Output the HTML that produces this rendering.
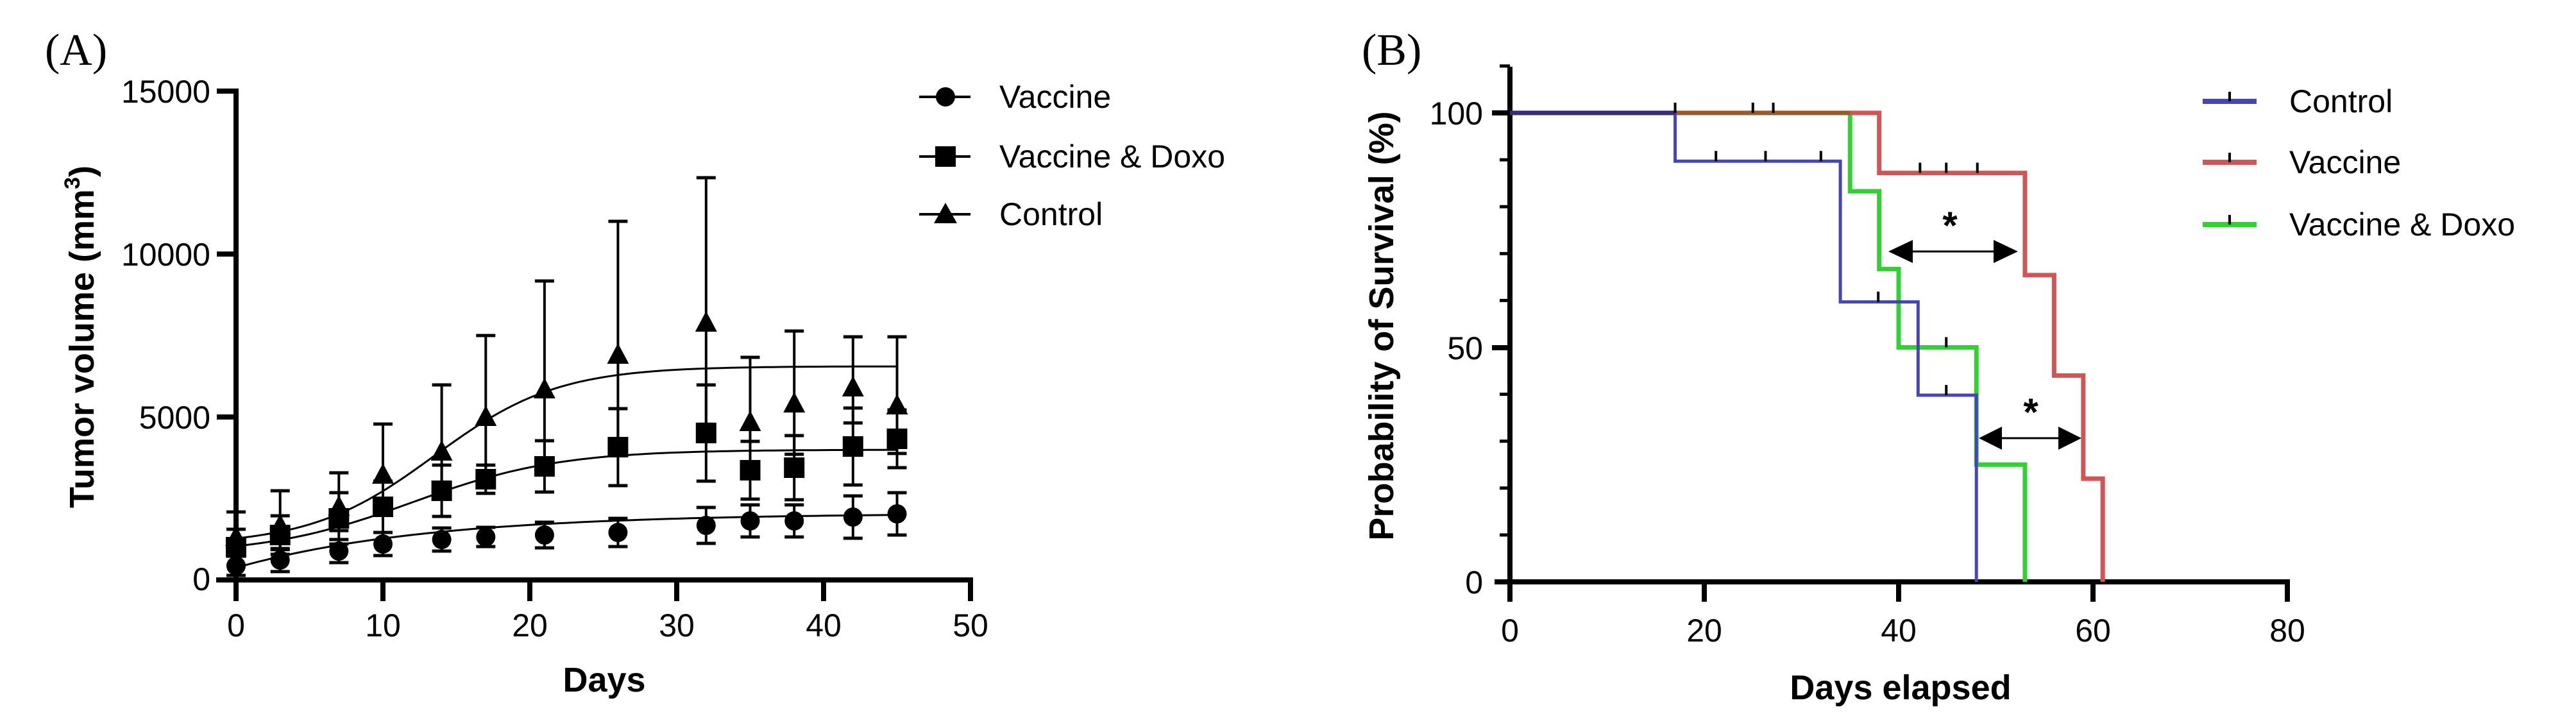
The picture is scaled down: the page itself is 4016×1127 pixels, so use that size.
<!DOCTYPE html>
<html><head><meta charset="utf-8"><style>
html,body{margin:0;padding:0;background:#fff;}
svg{display:block;}
text{font-family:"Liberation Sans",Arial,sans-serif;fill:#000;}
</style></head><body>
<svg id="s" width="4016" height="1127" viewBox="0 0 4016 1127" xmlns="http://www.w3.org/2000/svg">
<rect width="4016" height="1127" fill="#fff"/>
<!-- Panel A -->
<text x="70" y="101" style="font-family:'Liberation Serif',serif" font-size="70">(A)</text>
<g stroke="#000" stroke-width="8" fill="none">
<line x1="368" y1="138" x2="368" y2="937"/>
<line x1="337" y1="904" x2="1517" y2="904"/>
<line x1="338" y1="142" x2="368" y2="142"/>
<line x1="338" y1="396" x2="368" y2="396"/>
<line x1="338" y1="650" x2="368" y2="650"/>
<line x1="597" y1="904" x2="597" y2="937"/>
<line x1="826" y1="904" x2="826" y2="937"/>
<line x1="1055" y1="904" x2="1055" y2="937"/>
<line x1="1284" y1="904" x2="1284" y2="937"/>
<line x1="1513" y1="904" x2="1513" y2="937"/>
</g>
<g font-size="50" text-anchor="end">
<text x="328" y="160">15000</text>
<text x="328" y="414">10000</text>
<text x="328" y="668">5000</text>
<text x="328" y="920">0</text>
</g>
<g font-size="50" text-anchor="middle">
<text x="368" y="992">0</text><text x="597" y="992">10</text><text x="826" y="992">20</text>
<text x="1055" y="992">30</text><text x="1284" y="992">40</text><text x="1513" y="992">50</text>
</g>
<text x="942" y="1078" font-size="54" font-weight="bold" text-anchor="middle">Days</text>
<text transform="translate(146,525) rotate(-90)" font-size="54" font-weight="bold" text-anchor="middle">Tumor volume (mm<tspan font-size="34" dy="-22">3</tspan><tspan dy="22">)</tspan></text>
<g id="adata"></g>
<!-- legend A -->
<g stroke="#000" stroke-width="4">
<line x1="1433" y1="151" x2="1513" y2="151"/>
<line x1="1433" y1="244" x2="1513" y2="244"/>
<line x1="1433" y1="334" x2="1513" y2="334"/>
</g>
<circle cx="1474" cy="151" r="15"/>
<rect x="1458" y="228" width="32" height="32"/>
<polygon points="1474,316 1492,348 1456,348"/>
<g font-size="50">
<text x="1558" y="168">Vaccine</text>
<text x="1558" y="261">Vaccine &amp; Doxo</text>
<text x="1558" y="351">Control</text>
</g>

<!-- Panel B -->
<text x="2123" y="101" style="font-family:'Liberation Serif',serif" font-size="70">(B)</text>
<g stroke="#000" stroke-width="8" fill="none">
<line x1="2354" y1="104" x2="2354" y2="938"/>
<line x1="2330" y1="907" x2="3570" y2="907"/>
<line x1="2657" y1="907" x2="2657" y2="938"/>
<line x1="2960" y1="907" x2="2960" y2="938"/>
<line x1="3263" y1="907" x2="3263" y2="938"/>
<line x1="3566" y1="907" x2="3566" y2="938"/>
<line x1="2326" y1="176" x2="2354" y2="176"/>
<line x1="2326" y1="542" x2="2354" y2="542"/>
</g>
<g stroke="#000" stroke-width="5" id="minor"></g>
<g font-size="50" text-anchor="end">
<text x="2312" y="194">100</text>
<text x="2312" y="560">50</text>
<text x="2312" y="925">0</text>
</g>
<g font-size="50" text-anchor="middle">
<text x="2354" y="1000">0</text><text x="2657" y="1000">20</text><text x="2960" y="1000">40</text>
<text x="3263" y="1000">60</text><text x="3566" y="1000">80</text>
</g>
<text x="2963" y="1090" font-size="54" font-weight="bold" text-anchor="middle">Days elapsed</text>
<text transform="translate(2172,508) rotate(-90)" font-size="54" font-weight="bold" text-anchor="middle">Probability of Survival (%)</text>
<g id="bdata" fill="none" stroke-width="6"></g>
<!-- arrows -->
<g stroke="#000" stroke-width="3">
<line x1="2950" y1="392" x2="3140" y2="392"/>
<line x1="3090" y1="683" x2="3240" y2="683"/>
</g>
<polygon points="2944,392 2982,374 2982,410"/>
<polygon points="3146,392 3108,374 3108,410"/>
<polygon points="3085,683 3121,665 3121,701"/>
<polygon points="3245,683 3209,665 3209,701"/>
<text x="3040" y="372" font-size="60" font-weight="bold" text-anchor="middle">*</text>
<text x="3166" y="663" font-size="60" font-weight="bold" text-anchor="middle">*</text>
<!-- legend B -->
<g stroke-width="8">
<line x1="3434" y1="158" x2="3518" y2="158" stroke="#4545b5"/>
<line x1="3434" y1="253" x2="3518" y2="253" stroke="#d05555"/>
<line x1="3434" y1="350" x2="3518" y2="350" stroke="#33d033"/>
</g>
<g stroke="#000" stroke-width="4">
<line x1="3476" y1="158" x2="3476" y2="143"/>
<line x1="3476" y1="253" x2="3476" y2="238"/>
<line x1="3476" y1="350" x2="3476" y2="335"/>
</g>
<g font-size="50">
<text x="3569" y="175">Control</text>
<text x="3569" y="270">Vaccine</text>
<text x="3569" y="367">Vaccine &amp; Doxo</text>
</g>
</svg>
<script>
(function(){
var NS="http://www.w3.org/2000/svg";
function el(p,t,a){var e=document.createElementNS(NS,t);for(var k in a)e.setAttribute(k,a[k]);p.appendChild(e);return e;}
var A=document.getElementById('adata');
var X=function(d){return 368+22.9*d;};
var days=[0,3,7,10,14,17,21,26,32,35,38,42,45];
var vac=[882,873,859,848,841,837,834,830,819,812,812,806,801];
var vacE=[15,18,18,18,18,15,20,22,28,25,25,33,33];
var dox=[853,834,808,790,765,747,727,697,675,733,729,696,684];
var doxE=[28,30,40,40,40,22,40,60,75,45,50,60,45];
var con=[837,819,790,740,704,650,607,553,503,658,629,604,632];
var conU=[798,765,737,661,600,523,438,345,277,557,516,525,525];
function curve(f){var s="";for(var d=0;d<=45;d+=0.5){s+=(d?"L":"M")+X(d).toFixed(1)+","+f(d).toFixed(1);}el(A,"path",{d:s,stroke:"#000","stroke-width":3,fill:"none"});}
curve(function(d){return 571+279/(1+Math.exp((d-13.5)/4.2));});
curve(function(d){return 701+164/(1+Math.exp((d-12)/5));});
curve(function(d){return 800+85*Math.exp(-d/13);});
function eb(x,y1,y2){el(A,"line",{x1:x,y1:y1,x2:x,y2:y2,stroke:"#000","stroke-width":4});
 el(A,"line",{x1:x-15,y1:y1,x2:x+15,y2:y1,stroke:"#000","stroke-width":5});
 el(A,"line",{x1:x-15,y1:y2,x2:x+15,y2:y2,stroke:"#000","stroke-width":5});}
for(var i=0;i<days.length;i++){
 var x=X(days[i]);
 var u=con[i]-conU[i];
 eb(x,conU[i],con[i]+u*0.7);
 eb(x,dox[i]-doxE[i],dox[i]+doxE[i]);
 eb(x,vac[i]-vacE[i],vac[i]+vacE[i]);
}
for(var i=0;i<days.length;i++){
 var x=X(days[i]);
 el(A,"polygon",{points:x+","+(con[i]-18)+" "+(x+17)+","+(con[i]+14)+" "+(x-17)+","+(con[i]+14)});
 el(A,"rect",{x:x-16,y:dox[i]-16,width:32,height:32});
 el(A,"circle",{cx:x,cy:vac[i],r:15});
}
// Panel B
var m=document.getElementById('minor');
for(var p=0;p<=110;p+=10){var y=907-p*7.31;el(m,"line",{x1:2338,y1:y,x2:2354,y2:y});}
var B=document.getElementById('bdata');
var BX=function(d){return 2354+15.15*d;};
var BY=function(p){return 907-p*7.31;};
function step(pts,c,w){var s="M"+BX(pts[0][0])+","+BY(pts[0][1]);for(var i=1;i<pts.length;i++){s+="H"+BX(pts[i][0])+"V"+BY(pts[i][1]);}el(B,"path",{d:s,stroke:c,"stroke-width":w||6});}
step([[17,100],[35,100],[35,83.3],[38,83.3],[38,66.7],[40,66.7],[40,50],[48,50],[48,25],[53,25],[53,0]],"#33d033",7);
step([[17,100],[38,100],[38,87.2],[53,87.2],[53,65.4],[56,65.4],[56,44],[59,44],[59,22],[61,22],[61,0]],"#d05555",7);
el(B,"line",{x1:BX(17),y1:BY(100),x2:BX(35),y2:BY(100),stroke:"#9a5a2a","stroke-width":7});
step([[0,100],[17,100],[17,89.7],[34,89.7],[34,59.7],[42,59.7],[42,39.8],[48,39.8],[48,0]],"#4545b5",5);
el(B,"line",{x1:BX(0),y1:BY(100),x2:BX(17),y2:BY(100),stroke:"#3a2a7a","stroke-width":7});
function cen(d,p){el(B,"line",{x1:BX(d),y1:BY(p),x2:BX(d),y2:BY(p)-16,stroke:"#000","stroke-width":4});}
[[25,100],[27.1,100],[17,100],[21.2,89.7],[26.3,89.7],[32,89.7],[42.2,87.2],[44.9,87.2],[48.1,87.2],[44.9,50],[44.9,39.8],[37.9,59.7]].forEach(function(a){cen(a[0],a[1]);});
})();
</script>
</body></html>
